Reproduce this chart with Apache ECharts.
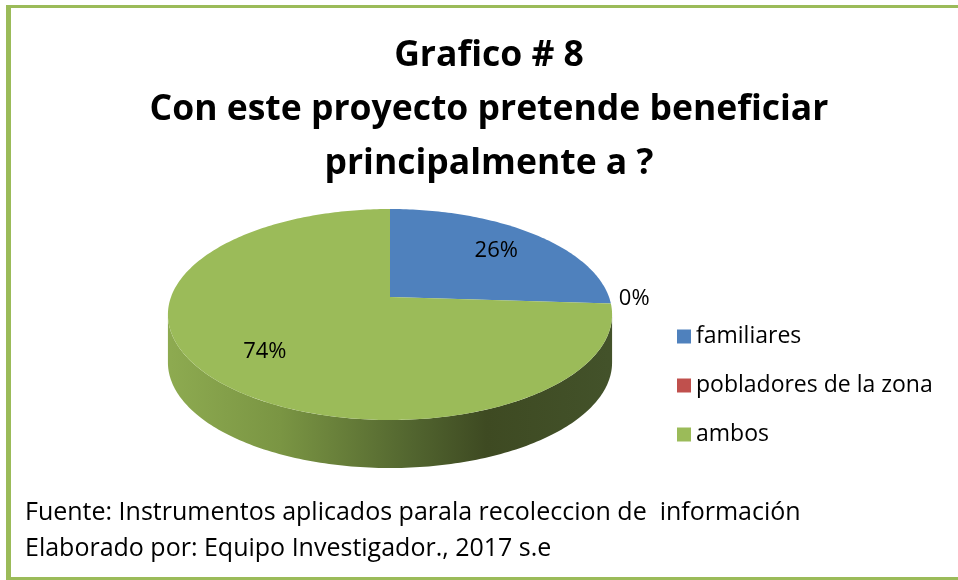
<!DOCTYPE html>
<html>
<head>
<meta charset="utf-8">
<script src="https://cdn.jsdelivr.net/npm/echarts@6/dist/echarts.min.js"></script>
<style>
  html, body { margin: 0; padding: 0; background: #fff; }
  #main { width: 958px; height: 580px; }
</style>
</head>
<body>
<div id="main"></div>
<script>
var myChart = echarts.init(document.getElementById('main'));

// datos
var categories = ['familiares', 'pobladores de la zona', 'ambos'];
var values = [26, 0, 74];
var colors = ['#4F81BD', '#C0504D', '#9BBB59'];
var titleLines = ['Grafico # 8', 'Con este proyecto pretende beneficiar', 'principalmente a ?'];
var footerLines = [
    'Fuente: Instrumentos aplicados parala recoleccion de  información',
    'Elaborado por: Equipo Investigador., 2017 s.e'
];

// pastel 3D con perspectiva
var cx = 390, cy = 297, R = 219, S = 102.6, k = 0.166, depth = 48;
var font = 'Open Sans';

var total = 0;
values.forEach(function (v) { total += v; });
var starts = [];
var acc = 0;
values.forEach(function (v) { starts.push(acc / total * 360); acc += v; });

function project(t, f) {
    var a = t * Math.PI / 180;
    var u = Math.sin(a) * f, v = -Math.cos(a) * f;
    var w = 1 - k * v;
    return [cx + R * u / w, cy + S * v / w];
}
function arc(t0, t1, dy) {
    var pts = [];
    var n = Math.max(2, Math.ceil((t1 - t0) / 1));
    for (var i = 0; i <= n; i++) {
        var p = project(t0 + (t1 - t0) * i / n, 1);
        pts.push([p[0], p[1] + dy]);
    }
    return pts;
}
var tA = Math.acos(-k) * 180 / Math.PI;   // borde visible
var tB = 360 - tA;

var wallStops = [
    [{ offset: 0, color: '#3F5E8C' }, { offset: 1, color: '#22344F' }],
    [{ offset: 0, color: '#8E3B39' }, { offset: 1, color: '#4F2120' }],
    [{ offset: 0, color: '#8DAA50' }, { offset: 0.25, color: '#7A9543' },
     { offset: 0.55, color: '#52652F' }, { offset: 0.72, color: '#3E4A22' },
     { offset: 1, color: '#43522A' }]
];

function renderSlice(params, api) {
    var i = params.seriesIndex;
    var val = api.value(0);
    var t0 = starts[i];
    var t1 = t0 + val / total * 360;
    var children = [];
    // pared lateral
    var a = Math.max(t0, tA), b = Math.min(t1, tB);
    if (b > a) {
        var top = arc(a, b, 0);
        var bottom = arc(a, b, depth).reverse();
        children.push({
            type: 'polygon',
            shape: { points: top.concat(bottom) },
            style: {
                fill: {
                    type: 'linear', x: cx - R, y: 0, x2: cx + R, y2: 0, global: true,
                    colorStops: wallStops[i]
                }
            }
        });
    }
    // cara superior
    if (t1 > t0) {
        children.push({
            type: 'polygon',
            shape: { points: [[cx, cy]].concat(arc(t0, t1, 0)) },
            style: { fill: colors[i] }
        });
    }
    // etiqueta
    var pct = Math.round(val / total * 100) + '%';
    var lp, align = 'center';
    if (val === 0) {
        lp = project(t0, 1);
        lp = [lp[0] + 8, lp[1] - 5];
        align = 'left';
    } else {
        lp = project((t0 + t1) / 2, 0.72);
    }
    children.push({
        type: 'text',
        x: lp[0], y: lp[1],
        style: {
            text: pct, fill: '#000', fontSize: 22, fontFamily: font,
            align: align, verticalAlign: 'middle'
        }
    });
    return { type: 'group', children: children };
}

var series = categories.map(function (name, i) {
    return {
        name: name,
        type: 'custom',
        coordinateSystem: 'none',
        itemStyle: { color: colors[i] },
        renderItem: renderSlice,
        data: [values[i]]
    };
});

var green = '#9BBB59';
var option = {
    color: colors,
    animation: false,
    title: {
        text: titleLines.join('\n'),
        left: 489,
        top: 29,
        textAlign: 'center',
        padding: 0,
        textStyle: {
            fontSize: 35.5, fontWeight: 'bold', lineHeight: 54,
            fontFamily: font, color: '#000'
        }
    },
    legend: {
        data: categories,
        orient: 'vertical',
        left: 677,
        top: 325,
        icon: 'rect',
        itemWidth: 14,
        itemHeight: 14,
        itemGap: 26,
        padding: 0,
        textStyle: { fontSize: 23, lineHeight: 22, fontFamily: font, color: '#000' }
    },
    graphic: [
        { type: 'rect', shape: { x: 6, y: 5, width: 952, height: 3 }, style: { fill: green } },
        { type: 'rect', shape: { x: 6, y: 5, width: 5, height: 575 }, style: { fill: green } },
        { type: 'rect', shape: { x: 6, y: 577, width: 952, height: 3 }, style: { fill: green } },
        {
            type: 'text', x: 25, y: 513,
            style: { text: footerLines[0], fontSize: 25, fontFamily: font, fill: '#000', verticalAlign: 'middle' }
        },
        {
            type: 'text', x: 25, y: 549,
            style: { text: footerLines[1], fontSize: 25, fontFamily: font, fill: '#000', verticalAlign: 'middle' }
        }
    ],
    series: series
};

myChart.setOption(option);
</script>
</body>
</html>
